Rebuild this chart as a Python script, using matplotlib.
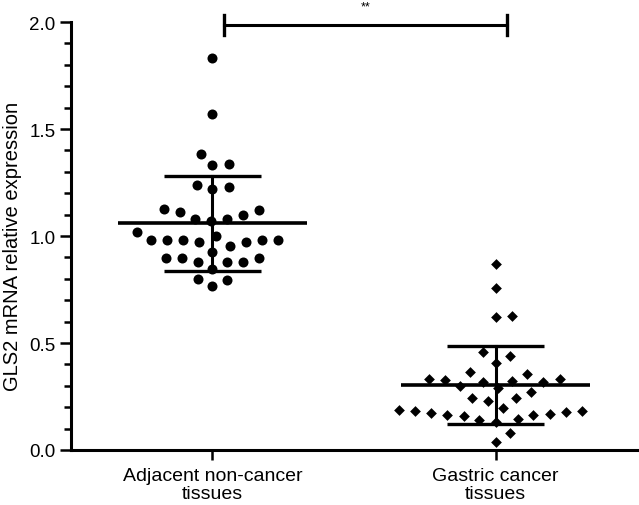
import numpy as np
import matplotlib
matplotlib.use("Agg")
import matplotlib.pyplot as plt

plt.rcParams["font.family"] = ["Liberation Sans", "DejaVu Sans"]

# values
groups = ["Adjacent non-cancer\ntissues", "Gastric cancer\ntissues"]
adjacent = [1.83, 1.57, 1.385, 1.33, 1.337, 1.23, 1.22, 1.237, 1.124, 1.11,
            1.12, 1.10, 1.08, 1.07, 1.08, 1.02, 0.98, 0.98, 0.98, 0.97,
            0.955, 0.97, 0.98, 0.98, 0.998, 0.924, 0.897, 0.88, 0.88, 0.88,
            0.897, 0.897, 0.846, 0.80, 0.796, 0.765]
gastric = [0.870, 0.755, 0.625, 0.62, 0.456, 0.44, 0.406, 0.3625, 0.355, 0.333,
           0.328, 0.319, 0.316, 0.322, 0.334, 0.2875, 0.297, 0.269, 0.245, 0.245,
           0.227, 0.1875, 0.18, 0.172, 0.1625, 0.159, 0.142, 0.130, 0.144, 0.164,
           0.167, 0.177, 0.184, 0.198, 0.078, 0.039]
means = [1.06, 0.304]
sds = [0.222, 0.182]
sig_label = "**"


def swarm_offsets(ypx, d):
    """greedy beeswarm in pixel space, returns x offsets in px"""
    placed = []
    offs = np.zeros(len(ypx))
    for i in np.argsort(ypx):
        y = ypx[i]
        cands = [0.0]
        for px, py in placed:
            dy = y - py
            if abs(dy) < d:
                dx = np.sqrt(d * d - dy * dy)
                cands += [px + dx, px - dx]
        cands.sort(key=abs)
        for c in cands:
            if all((c - px) ** 2 + (y - py) ** 2 >= d * d - 1e-6 for px, py in placed):
                offs[i] = c
                placed.append((c, y))
                break
    return offs


fig = plt.figure(figsize=(6.39, 5.06), dpi=100)
ax = fig.add_axes([0.111, 0.1087, 0.886, 0.8458])
ax.set_xlim(-0.5, 1.5)
ax.set_ylim(0, 2.0)

px_per_x = ax.transData.transform((1, 0))[0] - ax.transData.transform((0, 0))[0]

for i, (vals, mk, ms) in enumerate([(adjacent, "o", 52), (gastric, "D", 30)]):
    vals = np.array(vals)
    ypx = ax.transData.transform(np.column_stack([np.zeros_like(vals), vals]))[:, 1]
    offs = swarm_offsets(ypx, 16.3)
    ax.scatter(i + offs / px_per_x, vals, s=ms, marker=mk, color="black",
               linewidths=0, zorder=3)
    m, sd = means[i], sds[i]
    ax.plot([i - 0.333, i + 0.333], [m, m], color="black", lw=2.6, zorder=4,
            solid_capstyle="butt")
    ax.plot([i - 0.171, i + 0.171], [m + sd, m + sd], color="black", lw=2.4,
            zorder=4, solid_capstyle="butt")
    ax.plot([i - 0.171, i + 0.171], [m - sd, m - sd], color="black", lw=2.4,
            zorder=4, solid_capstyle="butt")
    ax.plot([i, i], [m - sd, m + sd], color="black", lw=2.2, zorder=4)

# significance bar
ax.plot([0.042, 1.04], [1.986, 1.986], color="black", lw=2.2, clip_on=False)
for xb in [0.042, 1.04]:
    ax.plot([xb, xb], [1.94, 2.035], color="black", lw=2.4, clip_on=False)
ax.text(0.54, 2.045, sig_label, ha="center", va="bottom", fontsize=9)

for s in ["top", "right"]:
    ax.spines[s].set_visible(False)
for s in ["left", "bottom"]:
    ax.spines[s].set_linewidth(2.2)

ax.set_yticks(np.arange(0, 2.01, 0.5))
ax.set_yticklabels(["0.0", "0.5", "1.0", "1.5", "2.0"])
ax.set_yticks(np.arange(0, 2.01, 0.1), minor=True)
ax.tick_params(axis="y", which="major", length=8, width=1.8, labelsize=13.5, pad=3)
ax.tick_params(axis="y", which="minor", length=5, width=1.8)
ax.set_xticks([0, 1])
ax.set_xticklabels(groups)
ax.tick_params(axis="x", length=7, width=1.8, labelsize=14, pad=5)
for lab in ax.get_xticklabels():
    lab.set_linespacing(1.08)

ax.set_ylabel("GLS2 mRNA relative expression", fontsize=14.5)
ax.yaxis.set_label_coords(-0.086, 0.477)

fig.savefig("out.png", dpi=100)
